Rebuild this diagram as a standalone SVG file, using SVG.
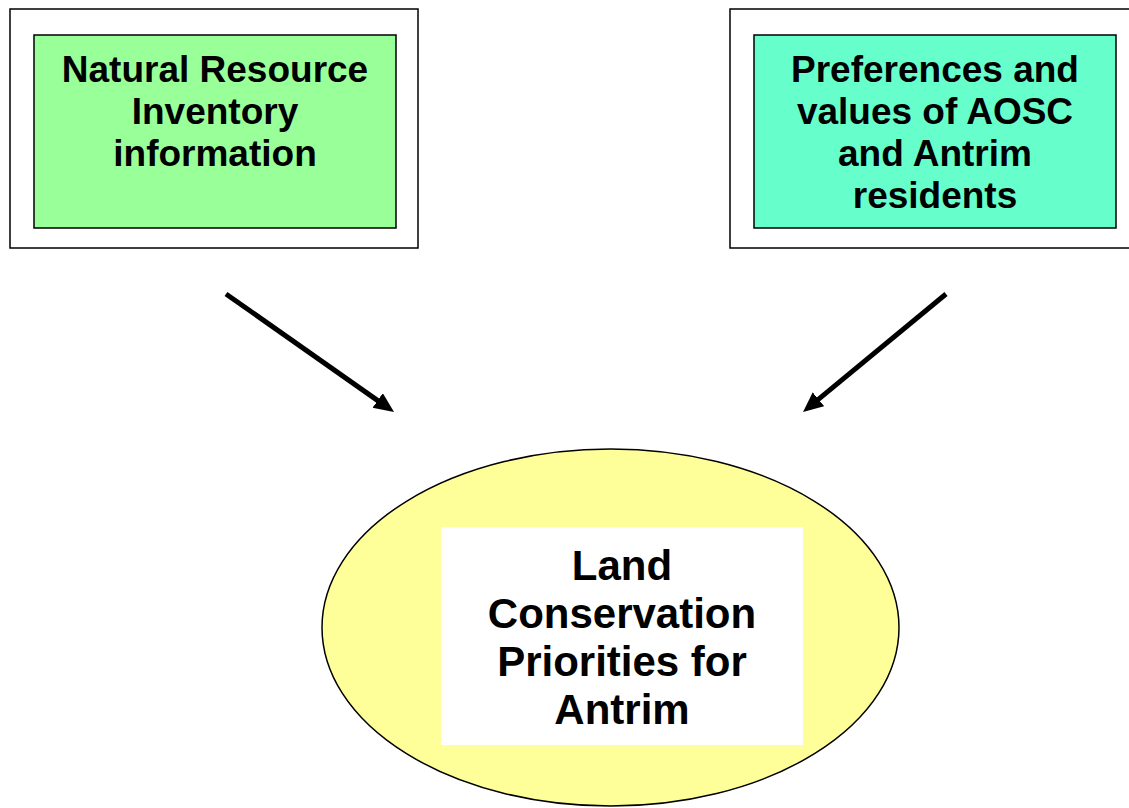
<svg xmlns="http://www.w3.org/2000/svg" width="1129" height="808" viewBox="0 0 1129 808">
<style>
.frame{fill:#fff;stroke:#000;stroke-width:1.5}
.inner{stroke:#000;stroke-width:1.5}
.t{font-family:"Liberation Sans",Arial,sans-serif;font-weight:bold;fill:#000;text-anchor:middle}
.t1{font-size:37px}
.t2{font-size:42px}
.conn{stroke:#000;stroke-width:5;fill:none}
</style>
<defs>
<marker id="ah" markerUnits="userSpaceOnUse" markerWidth="22" markerHeight="20" refX="8" refY="9" orient="auto">
<path d="M0,0 L20,9 L0,18 z" fill="#000"/>
</marker>
</defs>
<rect width="1129" height="808" fill="#fff"/>
<g id="node-nri">
<rect class="frame" x="10" y="9" width="408" height="239"/>
<rect class="inner" x="34" y="35" width="362" height="193" fill="#99FF99"/>
<text class="t t1" x="215" y="82">Natural Resource</text>
<text class="t t1" x="215" y="124">Inventory</text>
<text class="t t1" x="215" y="166">information</text>
</g>
<g id="node-pref">
<rect class="frame" x="730" y="9" width="410" height="239"/>
<rect class="inner" x="754" y="35" width="362" height="193" fill="#66FFCC"/>
<text class="t t1" x="935" y="82">Preferences and</text>
<text class="t t1" x="935" y="124">values of AOSC</text>
<text class="t t1" x="935" y="166">and Antrim</text>
<text class="t t1" x="935" y="208">residents</text>
</g>
<g id="node-lcp">
<ellipse cx="610.5" cy="627.5" rx="288.5" ry="178.5" fill="#FFFF99" stroke="#000" stroke-width="1.5"/>
<rect x="441" y="527" width="362" height="218" fill="#fff"/>
<text class="t t2" x="622" y="580">Land</text>
<text class="t t2" x="622" y="628">Conservation</text>
<text class="t t2" x="622" y="676">Priorities for</text>
<text class="t t2" x="622" y="724">Antrim</text>
</g>
<g id="connectors">
<line class="conn" x1="226" y1="294" x2="384.2" y2="405.1" marker-end="url(#ah)"/>
<line class="conn" x1="946" y1="294" x2="812.3" y2="404.4" marker-end="url(#ah)"/>
</g>
</svg>
